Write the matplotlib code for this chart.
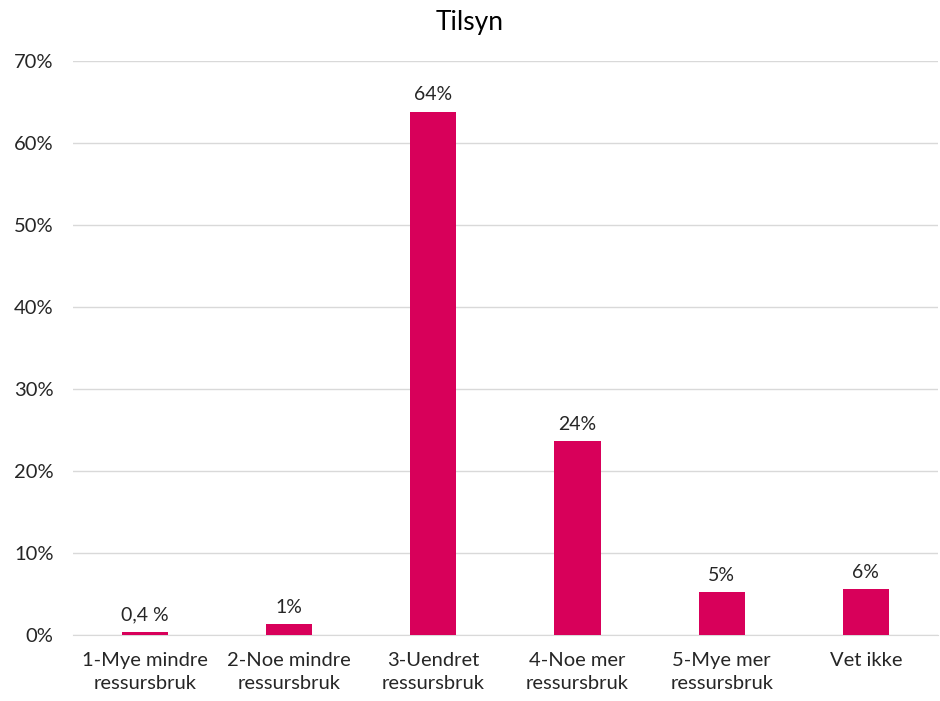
import matplotlib.pyplot as plt
from matplotlib.ticker import FuncFormatter

categories = ["1-Mye mindre\nressursbruk", "2-Noe mindre\nressursbruk", "3-Uendret\nressursbruk",
              "4-Noe mer\nressursbruk", "5-Mye mer\nressursbruk", "Vet ikke"]
values = [0.4, 1.34, 63.8, 23.6, 5.2, 5.6]
labels = ["0,4 %", "1%", "64%", "24%", "5%", "6%"]

plt.rcParams['font.family'] = ['Lato', 'DejaVu Sans']

fig = plt.figure(figsize=(9.4, 7.01), dpi=100)
ax = fig.add_axes([0.0777, 0.0942, 0.92, 0.819])

x = range(len(categories))
ax.bar(x, values, width=0.32, color="#D8005A", zorder=3)

for i, (v, lab) in enumerate(zip(values, labels)):
    ax.annotate(lab, (i, v), xytext=(0, 6), textcoords="offset points",
                ha="center", va="bottom", fontsize=14, color="#262626")

ax.set_ylim(0, 70)
ax.set_xlim(-0.5, len(categories) - 0.5)
ax.set_yticks(range(0, 71, 10))
ax.yaxis.set_major_formatter(FuncFormatter(lambda v, p: f"{int(v)}%"))
ax.set_xticks(list(x))
ax.set_xticklabels(categories, linespacing=1.45)
ax.tick_params(axis="both", length=0, labelsize=14.5, colors="#262626")
ax.tick_params(axis="x", pad=12)
ax.tick_params(axis="y", pad=14)

ax.grid(axis="y", color="#D9D9D9", linewidth=1, zorder=0)
for s in ["top", "right", "left"]:
    ax.spines[s].set_visible(False)
ax.spines["bottom"].set_color("#D9D9D9")

fig.text(0.5, 0.968, "Tilsyn", ha="center", va="center", fontsize=19, color="#000000")

fig.savefig("out.png")
